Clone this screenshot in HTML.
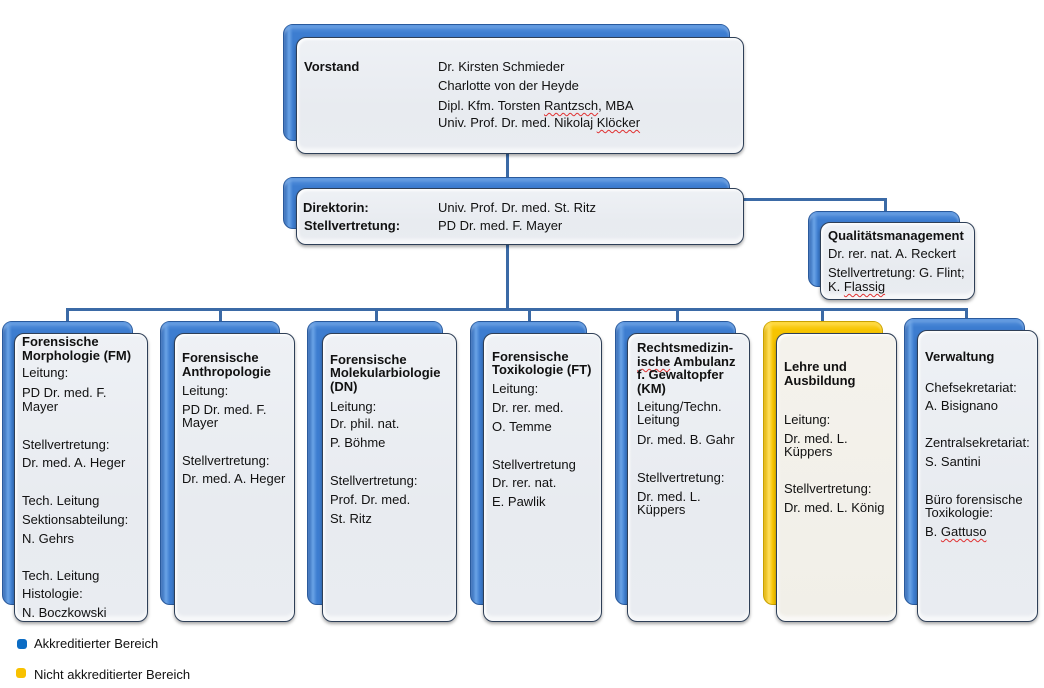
<!DOCTYPE html>
<html><head><meta charset="utf-8">
<style>
html,body{margin:0;padding:0;background:#fff;}
body{width:1044px;height:688px;position:relative;overflow:hidden;font-family:"Liberation Sans",Arial,sans-serif;font-size:13px;color:#111;}
.bk{position:absolute;border-radius:10px;border:1px solid #2a5a9c;box-sizing:border-box;
 background:linear-gradient(to right,#2f66b3 0px,#6aa3e6 5px,#3d7dd0 9px,#3d7dd0 100%);
 box-shadow:inset 0 3px 2px rgba(255,255,255,0.35);}
.bk:after{content:"";position:absolute;left:0;right:0;top:0;height:8px;border-radius:10px 10px 0 0;background:linear-gradient(#5c97e0,rgba(61,125,208,0));}
.yl{border-color:#c9a100;background:linear-gradient(to right,#e0b000 0px,#ffe060 5px,#f6c400 9px,#f6c400 100%);}
.yl:after{background:linear-gradient(#ffd83a,rgba(246,196,0,0));}
.fr{position:absolute;border-radius:10px;border:1.5px solid #2e3f57;box-sizing:border-box;
 background:linear-gradient(#eef1f5,#e8ebf0 60%,#e9ecf1);
 box-shadow:0 2px 3px rgba(0,0,0,0.35), inset 0 -5px 3px rgba(255,255,255,0.6), inset 2px 2px 2px rgba(255,255,255,0.8);}
.cr{background:linear-gradient(#f4f2ec,#f1efe8);}
.t{position:absolute;white-space:nowrap;line-height:14px;}
.b{font-weight:bold;}
.w{text-decoration:underline wavy #e03030;text-decoration-skip-ink:none;text-underline-offset:2px;text-decoration-thickness:1px;}
.ln{position:absolute;background:#3b6aa6;}
</style></head><body>

<!-- connectors -->
<div class="ln" style="left:506px;top:150px;width:3px;height:40px;"></div>
<div class="ln" style="left:506px;top:243px;width:3px;height:68px;"></div>
<div class="ln" style="left:66px;top:308px;width:902px;height:3px;"></div>
<div class="ln" style="left:66px;top:308px;width:3px;height:16px;"></div>
<div class="ln" style="left:219px;top:308px;width:3px;height:16px;"></div>
<div class="ln" style="left:375px;top:308px;width:3px;height:16px;"></div>
<div class="ln" style="left:528px;top:308px;width:3px;height:16px;"></div>
<div class="ln" style="left:676px;top:308px;width:3px;height:16px;"></div>
<div class="ln" style="left:821px;top:308px;width:3px;height:16px;"></div>
<div class="ln" style="left:965px;top:308px;width:3px;height:13px;"></div>
<div class="ln" style="left:742px;top:198px;width:145px;height:3px;"></div>
<div class="ln" style="left:884px;top:198px;width:3px;height:15px;"></div>

<!-- Vorstand -->
<div class="bk" style="left:283px;top:24px;width:447px;height:117px;"></div>
<div class="fr" style="left:296px;top:37px;width:448px;height:117px;"></div>
<div class="t b" style="left:304px;top:60px;">Vorstand</div>
<div class="t" style="left:438px;top:60px;">Dr. Kirsten Schmieder</div>
<div class="t" style="left:438px;top:79px;">Charlotte von der Heyde</div>
<div class="t" style="left:438px;top:99px;">Dipl. Kfm. Torsten <span class="w">Rantzsch</span>, MBA</div>
<div class="t" style="left:438px;top:116px;">Univ. Prof. Dr. med. Nikolaj <span class="w">Klöcker</span></div>

<!-- Direktorin -->
<div class="bk" style="left:283px;top:177px;width:447px;height:52px;"></div>
<div class="fr" style="left:296px;top:188px;width:448px;height:57px;"></div>
<div class="t b" style="left:303px;top:201px;">Direktorin:</div>
<div class="t b" style="left:304px;top:219px;">Stellvertretung:</div>
<div class="t" style="left:438px;top:201px;">Univ. Prof. Dr. med. St. Ritz</div>
<div class="t" style="left:438px;top:219px;">PD Dr. med. F. Mayer</div>

<!-- QM -->
<div class="bk" style="left:808px;top:211px;width:152px;height:76px;"></div>
<div class="fr" style="left:820px;top:222px;width:155px;height:78px;"></div>
<div class="t b" style="left:828px;top:229px;">Qualitätsmanagement</div>
<div class="t" style="left:828px;top:247px;">Dr. rer. nat. A. Reckert</div>
<div class="t" style="left:828px;top:266px;">Stellvertretung: G. Flint;</div>
<div class="t" style="left:828px;top:280px;">K. <span class="w">Flassig</span></div>

<!-- Col1 FM -->
<div class="bk" style="left:2px;top:321px;width:131px;height:284px;"></div>
<div class="fr" style="left:14px;top:333px;width:134px;height:289px;"></div>
<div class="t b" style="left:22px;top:335px;">Forensische</div>
<div class="t b" style="left:22px;top:349px;">Morphologie (FM)</div>
<div class="t" style="left:22px;top:366px;">Leitung:</div>
<div class="t" style="left:22px;top:386px;">PD Dr. med. F.</div>
<div class="t" style="left:22px;top:400px;">Mayer</div>
<div class="t" style="left:22px;top:438px;">Stellvertretung:</div>
<div class="t" style="left:22px;top:456px;">Dr. med. A. Heger</div>
<div class="t" style="left:22px;top:494px;">Tech. Leitung</div>
<div class="t" style="left:22px;top:513px;">Sektionsabteilung:</div>
<div class="t" style="left:22px;top:532px;">N. Gehrs</div>
<div class="t" style="left:22px;top:569px;">Tech. Leitung</div>
<div class="t" style="left:22px;top:587px;">Histologie:</div>
<div class="t" style="left:22px;top:606px;">N. Boczkowski</div>

<!-- Col2 -->
<div class="bk" style="left:160px;top:321px;width:120px;height:284px;"></div>
<div class="fr" style="left:174px;top:333px;width:121px;height:289px;"></div>
<div class="t b" style="left:182px;top:351px;">Forensische</div>
<div class="t b" style="left:182px;top:365px;">Anthropologie</div>
<div class="t" style="left:182px;top:384px;">Leitung:</div>
<div class="t" style="left:182px;top:403px;">PD Dr. med. F.</div>
<div class="t" style="left:182px;top:416px;">Mayer</div>
<div class="t" style="left:182px;top:454px;">Stellvertretung:</div>
<div class="t" style="left:182px;top:472px;">Dr. med. A. Heger</div>

<!-- Col3 -->
<div class="bk" style="left:307px;top:321px;width:136px;height:284px;"></div>
<div class="fr" style="left:322px;top:333px;width:135px;height:289px;"></div>
<div class="t b" style="left:330px;top:353px;">Forensische</div>
<div class="t b" style="left:330px;top:366px;">Molekularbiologie</div>
<div class="t b" style="left:330px;top:380px;">(DN)</div>
<div class="t" style="left:330px;top:400px;">Leitung:</div>
<div class="t" style="left:330px;top:417px;">Dr. phil. nat.</div>
<div class="t" style="left:330px;top:436px;">P. Böhme</div>
<div class="t" style="left:330px;top:474px;">Stellvertretung:</div>
<div class="t" style="left:330px;top:493px;">Prof. Dr. med.</div>
<div class="t" style="left:330px;top:512px;">St. Ritz</div>

<!-- Col4 -->
<div class="bk" style="left:470px;top:321px;width:117px;height:284px;"></div>
<div class="fr" style="left:483px;top:333px;width:119px;height:289px;"></div>
<div class="t b" style="left:492px;top:350px;">Forensische</div>
<div class="t b" style="left:492px;top:363px;">Toxikologie (FT)</div>
<div class="t" style="left:492px;top:382px;">Leitung:</div>
<div class="t" style="left:492px;top:401px;">Dr. rer. med.</div>
<div class="t" style="left:492px;top:420px;">O. Temme</div>
<div class="t" style="left:492px;top:458px;">Stellvertretung</div>
<div class="t" style="left:492px;top:476px;">Dr. rer. nat.</div>
<div class="t" style="left:492px;top:495px;">E. Pawlik</div>

<!-- Col5 -->
<div class="bk" style="left:615px;top:321px;width:121px;height:284px;"></div>
<div class="fr" style="left:627px;top:333px;width:123px;height:289px;"></div>
<div class="t b" style="left:637px;top:341px;">Rechtsmedizin-</div>
<div class="t b" style="left:637px;top:355px;"><span class="w">ische</span> Ambulanz</div>
<div class="t b" style="left:637px;top:368px;">f. Gewaltopfer</div>
<div class="t b" style="left:637px;top:382px;">(KM)</div>
<div class="t" style="left:637px;top:400px;">Leitung/Techn.</div>
<div class="t" style="left:637px;top:413px;">Leitung</div>
<div class="t" style="left:637px;top:433px;">Dr. med. B. Gahr</div>
<div class="t" style="left:637px;top:471px;">Stellvertretung:</div>
<div class="t" style="left:637px;top:490px;">Dr. med. L.</div>
<div class="t" style="left:637px;top:503px;">Küppers</div>

<!-- Col6 yellow -->
<div class="bk yl" style="left:763px;top:321px;width:120px;height:284px;"></div>
<div class="fr cr" style="left:776px;top:333px;width:121px;height:289px;"></div>
<div class="t b" style="left:784px;top:360px;">Lehre und</div>
<div class="t b" style="left:784px;top:374px;">Ausbildung</div>
<div class="t" style="left:784px;top:413px;">Leitung:</div>
<div class="t" style="left:784px;top:432px;">Dr. med. L.</div>
<div class="t" style="left:784px;top:445px;">Küppers</div>
<div class="t" style="left:784px;top:482px;">Stellvertretung:</div>
<div class="t" style="left:784px;top:501px;">Dr. med. L. König</div>

<!-- Col7 -->
<div class="bk" style="left:904px;top:318px;width:121px;height:287px;"></div>
<div class="fr" style="left:917px;top:330px;width:121px;height:292px;"></div>
<div class="t b" style="left:925px;top:350px;">Verwaltung</div>
<div class="t" style="left:925px;top:381px;">Chefsekretariat:</div>
<div class="t" style="left:925px;top:399px;">A. Bisignano</div>
<div class="t" style="left:925px;top:436px;">Zentralsekretariat:</div>
<div class="t" style="left:925px;top:455px;">S. Santini</div>
<div class="t" style="left:925px;top:493px;">Büro forensische</div>
<div class="t" style="left:925px;top:506px;">Toxikologie:</div>
<div class="t" style="left:925px;top:525px;">B. <span class="w">Gattuso</span></div>

<!-- Legend -->
<div style="position:absolute;left:17px;top:639px;width:10px;height:10px;border-radius:3px;background:#0b6cc4;"></div>
<div class="t" style="left:34px;top:637px;">Akkreditierter Bereich</div>
<div style="position:absolute;left:16px;top:668px;width:10px;height:10px;border-radius:3px;background:#f8c100;"></div>
<div class="t" style="left:34px;top:668px;">Nicht akkreditierter Bereich</div>

</body></html>
